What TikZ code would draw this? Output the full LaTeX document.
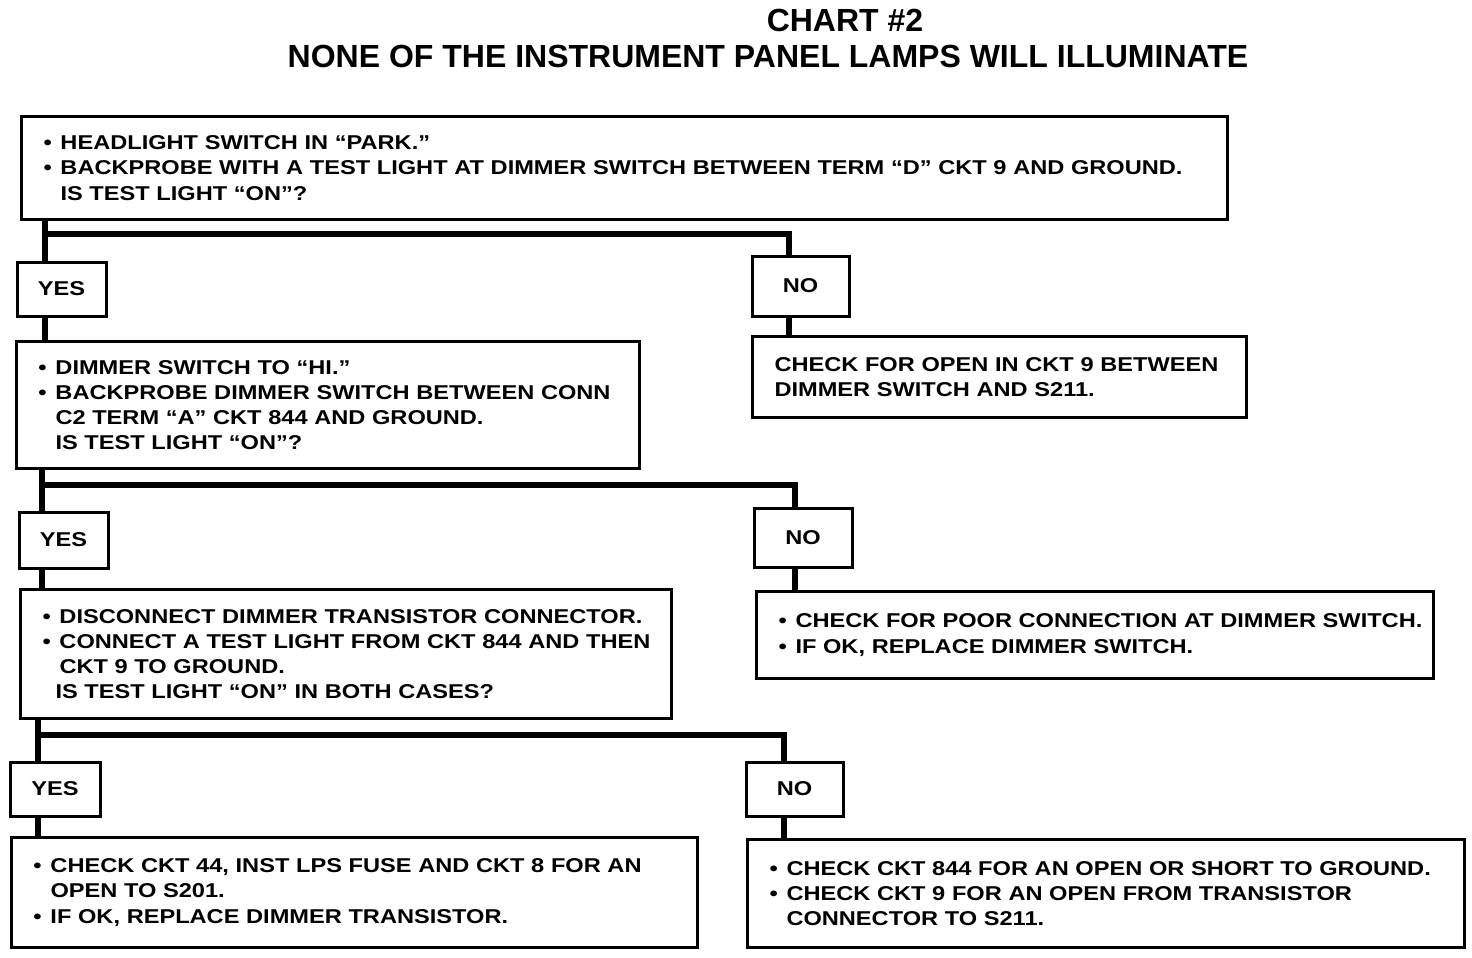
\documentclass[tikz,border=0pt]{standalone}
\usepackage{fontspec}
\newfontfamily\boxfont{Liberation Sans}[FakeStretch=1.18]
\newfontfamily\headfont{Liberation Sans}
\usetikzlibrary{positioning}

\newcommand{\pad}{\hspace*{8pt}}
\newcommand{\bul}{\pad\makebox[8.5pt][l]{\textbullet}}
\newcommand{\hng}{\pad\hspace*{8.5pt}}

\tikzset{
  test/.style={draw,line width=1.5pt,anchor=north west,align=left,inner xsep=3pt,inner ysep=0pt,
    font=\boxfont\bfseries\fontsize{10}{12.6}\selectfont},
  answer/.style={draw,line width=1.5pt,inner sep=0pt,minimum height=27pt,
    font=\boxfont\bfseries\fontsize{10}{12}\selectfont},
  link/.style={line width=3pt},
  heading/.style={inner sep=0pt,font=\headfont\bfseries\fontsize{16}{18}\selectfont}
}

\begin{document}
\begin{tikzpicture}[x=0.5pt,y=-0.5pt]
  \useasboundingbox (0,0) rectangle (1472,958);

  \node[heading] (chart) at (845,20) {CHART \#2};
  \node[heading] (head)  at (768,56) {NONE OF THE INSTRUMENT PANEL LAMPS WILL ILLUMINATE};

  % first question
  \node[test,text width=597pt,minimum height=51.5pt] (q1) at (20,115)
    {\bul HEADLIGHT SWITCH IN “PARK.”\\
     \bul BACKPROBE WITH A TEST LIGHT AT DIMMER SWITCH BETWEEN TERM “D” CKT 9 AND GROUND.\\
     \hng IS TEST LIGHT “ON”?};
  \node[answer,minimum width=44.5pt] (yes1) at (61.5,289) {YES};
  \node[answer,minimum width=48.5pt,minimum height=30pt] (no1) at (800.5,286) {NO};
  \node[test,text width=241pt,minimum height=40.5pt] (a1) at (751,335)
    {\pad CHECK FOR OPEN IN CKT 9 BETWEEN\\
     \pad DIMMER SWITCH AND S211.};

  % second question
  \node[test,text width=305.5pt,minimum height=63.5pt] (q2) at (15,340)
    {\bul DIMMER SWITCH TO “HI.”\\
     \bul BACKPROBE DIMMER SWITCH BETWEEN CONN\\
     \hng C2 TERM “A” CKT 844 AND GROUND.\\
     \hng IS TEST LIGHT “ON”?};
  \node[answer,minimum width=44.5pt,minimum height=28pt] (yes2) at (63.5,540) {YES};
  \node[answer,minimum width=49pt,minimum height=29.5pt] (no2) at (803,537.5) {NO};
  \node[test,text width=332.5pt,minimum height=43.5pt] (a2) at (755,590)
    {\bul CHECK FOR POOR CONNECTION AT DIMMER SWITCH.\\
     \bul IF OK, REPLACE DIMMER SWITCH.};

  % third question
  \node[test,text width=319.5pt,minimum height=64.5pt] (q3) at (19,588)
    {\bul DISCONNECT DIMMER TRANSISTOR CONNECTOR.\\
     \bul CONNECT A TEST LIGHT FROM CKT 844 AND THEN\\
     \hng CKT 9 TO GROUND.\\
     \pad\hspace*{6.5pt}IS TEST LIGHT “ON” IN BOTH CASES?};
  \node[answer,minimum width=45pt] (yes3) at (55,789) {YES};
  \node[answer,minimum width=48.5pt] (no3) at (794.5,789) {NO};
  \node[test,text width=337pt,minimum height=55pt] (q4) at (10,836)
    {\bul CHECK CKT 44, INST LPS FUSE AND CKT 8 FOR AN\\
     \hng OPEN TO S201.\\
     \bul IF OK, REPLACE DIMMER TRANSISTOR.};
  \node[test,text width=352.5pt,minimum height=54pt] (a3) at (746,838)
    {\bul CHECK CKT 844 FOR AN OPEN OR SHORT TO GROUND.\\
     \bul CHECK CKT 9 FOR AN OPEN FROM TRANSISTOR\\
     \hng CONNECTOR TO S211.};

  % branches
  \coordinate (b1) at (45,234);
  \coordinate (b2) at (42,485);
  \coordinate (b3) at (38,735);

  \draw[link] (q1.south -| b1) -- (yes1.north -| b1);
  \draw[link] (b1) -| ([xshift=-5.75pt]no1.north);
  \draw[link] (yes1.south -| b1) -- (q2.north -| b1);
  \draw[link] ([xshift=-5.75pt]no1.south) -- ([xshift=-5.75pt]no1.south |- a1.north);

  \draw[link] (q2.south -| b2) -- (yes2.north -| b2);
  \draw[link] (b2) -| ([xshift=-4pt]no2.north);
  \draw[link] (yes2.south -| b2) -- (q3.north -| b2);
  \draw[link] ([xshift=-4pt]no2.south) -- ([xshift=-4pt]no2.south |- a2.north);

  \draw[link] (q3.south -| b3) -- (yes3.north -| b3);
  \draw[link] (b3) -| ([xshift=-5.25pt]no3.north);
  \draw[link] (yes3.south -| b3) -- (q4.north -| b3);
  \draw[link] ([xshift=-5.25pt]no3.south) -- ([xshift=-5.25pt]no3.south |- a3.north);
\end{tikzpicture}
\end{document}
